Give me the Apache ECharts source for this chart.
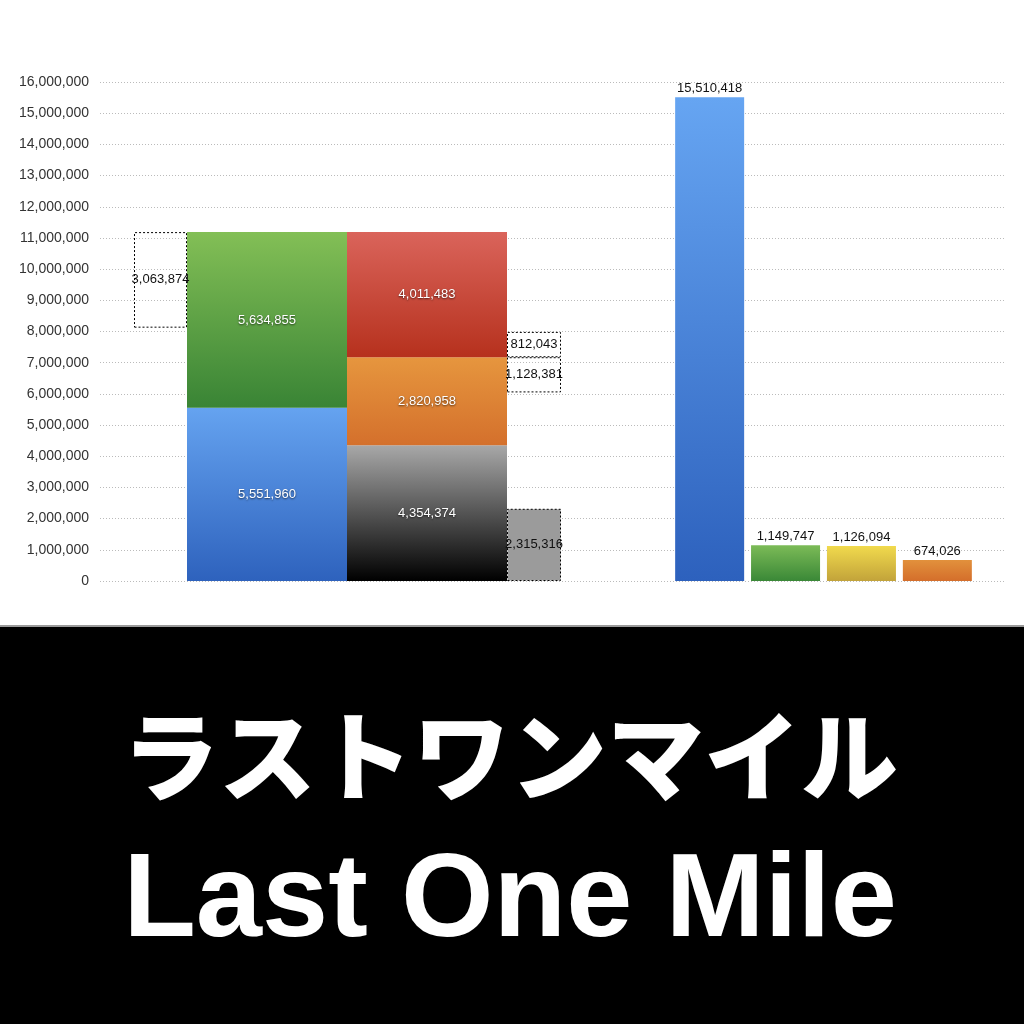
<!DOCTYPE html>
<html>
<head>
<meta charset="utf-8">
<script src="https://cdn.jsdelivr.net/npm/echarts@6/dist/echarts.min.js"></script>
<style>html,body{margin:0;padding:0;background:#fff}#c{width:1024px;height:1024px}</style>
</head>
<body>
<div id="c"></div>
<script>
// ---- data ----
var yTickMax = 16000000;
var yTickStep = 1000000;
var leftGroupName = ['内訳'];
var rightGroupName = ['比較'];
// left stack A
var blueValue = 5551960;
var greenValue = 5634855;
// left floating box beside stack A
var dashedAValue = 3063874;
// left stack B
var blackValue = 4354374;
var orangeValue = 2820958;
var redValue = 4011483;
// right-side boxes beside stack B
var grayValue = 2315316;
var dashedB1Value = 1128381;
var dashedB2Value = 812043;
// right group
var rightValues = [15510418, 1149747, 1126094, 674026];

// derived bases for floating boxes
var stackATotal = blueValue + greenValue;
var dashedABase = stackATotal - dashedAValue;
var orangeTop = blackValue + orangeValue;
var dashedB1Base = orangeTop - dashedB1Value - grayValue;

function grad(top, bottom) {
  return {type:'linear', x:0, y:0, x2:0, y2:1, colorStops:[{offset:0,color:top},{offset:1,color:bottom}]};
}
function fmt(v){ return v.toLocaleString('en-US'); }

var FONT = '"Liberation Sans", "Noto Sans", sans-serif';
var inLabel = {show:true, position:'inside', color:'#fff', fontSize:13, fontFamily:FONT,
  textShadowColor:'rgba(0,0,0,0.65)', textShadowBlur:2, textShadowOffsetY:1,
  formatter:function(p){return fmt(p.value);}};
var boxLabel = {show:true, position:'inside', color:'#111', fontSize:13, fontFamily:FONT,
  formatter:function(p){return fmt(p.value);}};
var topLabel = {show:true, position:'top', distance:2, color:'#111', fontSize:13, fontFamily:FONT,
  formatter:function(p){return fmt(p.value);}};
var dashedStyle = {color:'rgba(255,255,255,0)', borderColor:'#000', borderWidth:1, borderType:[2,2]};
var helperStyle = {color:'rgba(0,0,0,0)'};

var TOP = 82, BOTTOM = 443;
function yAx(idx, show) {
  return {type:'value', gridIndex:idx, min:0, max:yTickMax, interval:yTickStep,
    show: show,
    axisLine:{show:false}, axisTick:{show:false},
    axisLabel:{show:show, color:'#333', fontSize:14, fontFamily:FONT, margin:11,
      formatter:function(v){return fmt(v);}},
    splitLine:{show:show, lineStyle:{type:[1,2], color:'#bbb', width:1}}};
}

var L = {xAxisIndex:1, yAxisIndex:1, barGap:'0%'};
function leftSeries(name, stack, width, value, itemStyle, label) {
  return Object.assign({type:'bar', name:name, stack:stack, barWidth:width, data:[value],
    itemStyle:itemStyle, label:label || {show:false}, silent:!label, animation:false}, L);
}
var R = {xAxisIndex:2, yAxisIndex:2, barGap:'10%', barWidth:69, animation:false};
var rightColors = [
  grad('#66a5f2', '#2d61bd'),
  grad('#7cbb57', '#3a8837'),
  grad('#f1da4d', '#c2a33a'),
  grad('#e2913c', '#d46e2b')
];

var series = [
  leftSeries('hA', 'sA0', 53, dashedABase, helperStyle, null),
  leftSeries('boxA', 'sA0', 53, dashedAValue, dashedStyle, boxLabel),
  leftSeries('blue', 'sA', 160, blueValue, {color:grad('#65a3f0','#2e62bd')}, inLabel),
  leftSeries('green', 'sA', 160, greenValue, {color:grad('#83bf56','#398435')}, inLabel),
  leftSeries('black', 'sB', 160, blackValue, {color:grad('#a8a8a8','#000000')}, inLabel),
  leftSeries('orange', 'sB', 160, orangeValue, {color:grad('#e6963e','#d4702c')}, inLabel),
  leftSeries('red', 'sB', 160, redValue, {color:grad('#da645b','#b6311d')}, inLabel),
  leftSeries('gray', 'sB2', 54, grayValue, {color:'#9b9b9b', borderColor:'#000', borderWidth:1, borderType:[2,2]}, boxLabel),
  leftSeries('hB', 'sB2', 54, dashedB1Base, helperStyle, null),
  leftSeries('boxB1', 'sB2', 54, dashedB1Value, dashedStyle, boxLabel),
  leftSeries('boxB2', 'sB2', 54, dashedB2Value, dashedStyle, boxLabel)
];
rightValues.forEach(function(v, i){
  series.push(Object.assign({type:'bar', name:'r'+i, data:[v],
    itemStyle:{color:rightColors[i]}, label:topLabel}, R));
});

var chart = echarts.init(document.getElementById('c'), null, {renderer:'canvas'});
chart.setOption({
  backgroundColor:'#fff',
  animation:false,
  grid:[
    {left:100, right:19, top:TOP, bottom:BOTTOM},
    {left:100, width:495, top:TOP, bottom:BOTTOM},
    {left:642, width:363, top:TOP, bottom:BOTTOM}
  ],
  xAxis:[
    {type:'category', gridIndex:0, data:[''], show:false},
    {type:'category', gridIndex:1, data:leftGroupName, show:false},
    {type:'category', gridIndex:2, data:rightGroupName, show:false}
  ],
  yAxis:[yAx(0, true), yAx(1, false), yAx(2, false)],
  series: series,
  graphic:[
    {type:'rect', left:0, top:625, shape:{width:1024, height:399}, style:{fill:'#000'}, z:100},
    {type:'rect', left:0, top:625, shape:{width:1024, height:2}, style:{fill:'#9a9a9a'}, z:101},
    {type:'text', x:510, y:756, z:102, style:{text:'ラストワンマイル', fill:'#fff',
      font:'900 97px "Noto Sans CJK JP", sans-serif', textAlign:'center', textVerticalAlign:'middle'}},
    {type:'text', x:510, y:903, z:102, style:{text:'Last One Mile', fill:'#fff',
      font:'bold 119px "Liberation Sans", Arial, sans-serif', textAlign:'center', textVerticalAlign:'middle'}}
  ]
});
</script>
</body>
</html>
